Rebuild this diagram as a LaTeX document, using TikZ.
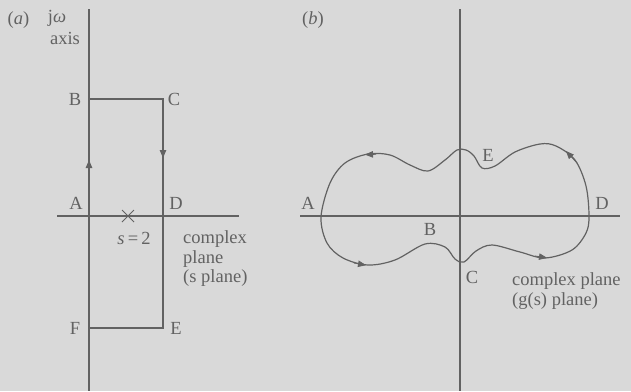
\documentclass[tikz,border=0pt]{standalone}
\usepackage{fontspec}
\setmainfont{Liberation Serif}
\usetikzlibrary{arrows.meta}
\definecolor{bgc}{RGB}{217,217,217}
\definecolor{ink}{RGB}{98,98,98}
\tikzset{
  axisline/.style={draw=ink, line width=1.2pt},
  curveline/.style={draw=ink, line width=1.2pt},
  lbl/.style={text=ink, inner sep=0pt, font=\fontsize{18.5}{19.5}\selectfont},
  tip/.style={draw=ink, line width=0.8pt, -{Triangle[length=8pt,width=6.5pt]}, fill=ink},
}
\begin{document}
\begin{tikzpicture}[x=1pt,y=-1pt]
\fill[bgc] (0,0) rectangle (631,391);
\useasboundingbox (0,0) rectangle (631,391);
% ---------- (a) ----------
\coordinate (aTop) at (89,9);
\coordinate (aBot) at (89,391);
\coordinate (aL) at (57,216);
\coordinate (aR) at (239,216);
\coordinate (B) at (89,99);
\coordinate (C) at (163,99);
\coordinate (E) at (163,328);
\coordinate (F) at (89,328);
\draw[axisline] (aTop) -- (aBot);
\draw[axisline] (aL) -- (aR);
\draw[curveline] (B) -- (C) -- (E) -- (F);
\coordinate (u1) at (89,172); \coordinate (u2) at (89,160);
\coordinate (d1) at (163,146); \coordinate (d2) at (163,158);
\draw[tip] (u1) -- (u2);
\draw[tip] (d1) -- (d2);
\coordinate (x0) at (128,216);
\draw[draw=ink, line width=0.9pt] ([shift={(-6,-6)}]x0) -- ([shift={(6,6)}]x0);
\draw[draw=ink, line width=0.9pt] ([shift={(-6,6)}]x0) -- ([shift={(6,-6)}]x0);
\node[lbl] (la) at (18.5,20) {(\textit{a})};
\node[lbl] (ljw) at (57,18) {j\textit{ω}};
\node[lbl] (laxis) at (65,38) {axis};
\node[lbl] (lB) at (75,99) {B};
\node[lbl] (lC) at (174,99) {C};
\node[lbl] (lA) at (76,203) {A};
\node[lbl] (lD) at (176,203) {D};
\node[lbl] (ls) at (134,238) {\textit{s}\,=\,2};
\node[lbl, anchor=west, align=left] (lcp) at (183,259) {complex\\plane\\(s plane)};
\node[lbl] (lF) at (75,328) {F};
\node[lbl] (lE) at (176,328) {E};
% ---------- (b) ----------
\coordinate (bTop) at (460,9);
\coordinate (bBot) at (460,391);
\coordinate (bL) at (300,216);
\coordinate (bR) at (620,216);
\draw[axisline] (bTop) -- (bBot);
\draw[axisline] (bL) -- (bR);
\draw[curveline] plot[smooth cycle, tension=0.55] coordinates {
 (321,217) (327,243) (343,258) (368,265) (395,260) (425,244) (445,247)
 (455,259) (464,262) (476,251) (492,245) (520,252) (545,258) (572,250)
 (586,233) (589,216) (586,186) (575,160) (556,146) (540,144) (515,152)
 (495,166) (482,168) (474,156) (466,150) (457,150) (445,160) (428,171)
 (410,165) (390,155) (368,154) (345,163) (330,183)};
\coordinate (t1a) at (376,154.3); \coordinate (t1b) at (365,154.6);
\coordinate (t2a) at (577,163); \coordinate (t2b) at (566,151);
\coordinate (t3a) at (354,263); \coordinate (t3b) at (366,265.2);
\coordinate (t4a) at (535,256); \coordinate (t4b) at (547,257.8);
\draw[tip] (t1a) -- (t1b);
\draw[tip] (t2a) -- (t2b);
\draw[tip] (t3a) -- (t3b);
\draw[tip] (t4a) -- (t4b);
\node[lbl] (lb) at (313,20) {(\textit{b})};
\node[lbl] (bA) at (308,203) {A};
\node[lbl] (bD) at (602,203) {D};
\node[lbl] (bB) at (430,229) {B};
\node[lbl] (bC) at (472,277) {C};
\node[lbl] (bE) at (488,155) {E};
\node[lbl, anchor=west, align=left] (lgp) at (512,291) {complex plane\\(g(s) plane)};
\end{tikzpicture}
\end{document}
